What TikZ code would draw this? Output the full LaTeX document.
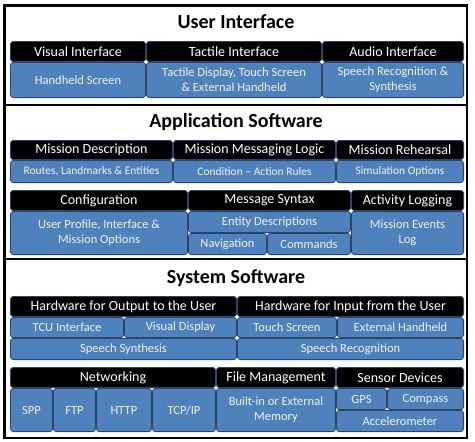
\documentclass[tikz,border=0pt]{standalone}
\usepackage{fontspec}
\setmainfont{Carlito}
\usepackage{xcolor}
\definecolor{cellblue}{RGB}{79,129,189}
\definecolor{cellrim}{RGB}{40,70,108}
\definecolor{celltext}{RGB}{240,243,250}
\usetikzlibrary{positioning}

\begin{document}
\begin{tikzpicture}[x=1pt, y=-1pt,
  span/.style n args={4}{at={({(#1+#3)/2},{(#2+#4)/2})},
    minimum width={(#3-#1-0.8)*1pt}, minimum height={(#4-#2-0.8)*1pt}},
  cell/.style={draw=cellrim, line width=0.8pt, rounded corners=3pt, inner sep=0pt, align=center},
  hdr/.style={cell, fill=black, text=white, font=\fontsize{14}{16}\selectfont},
  body/.style={cell, fill=cellblue, text=celltext, font=\fontsize{12.5}{15}\selectfont},
  small/.style={body, font=\fontsize{11.5}{14}\selectfont},
  title/.style={font=\bfseries\fontsize{20}{22}\selectfont}]
\useasboundingbox (0,0) rectangle (475,442);
\draw[line width=2.5pt] (4.5,5.5) rectangle (467,438);
\draw[line width=2.5pt] (4.5,105) -- (467,105) (4.5,259) -- (467,259);

\node[title] (ui) at (236,22) {User Interface};
\node[hdr, span={10}{41}{146}{62}] (visH) {Visual Interface};
\node[hdr, span={146}{41}{322}{62}] (tacH) {Tactile Interface};
\node[hdr, span={322}{41}{464}{62}] (audH) {Audio Interface};
\node[body, span={10}{62}{146}{98}] (visB) {Handheld Screen};
\node[body, span={146}{62}{322}{98}] (tacB) {Tactile Display, Touch Screen\\\& External Handheld};
\node[body, span={322}{62}{464}{98}] (audB) {Speech Recognition \&\\Synthesis};

\node[title] (app) at (236,122) {Application Software};
\node[hdr, span={10}{140}{173}{160}] (descH) {Mission Description};
\node[hdr, span={173}{140}{336}{160}] (msgH) {Mission Messaging Logic};
\node[hdr, span={336}{140}{464}{160}] (rehH) {Mission Rehearsal};
\node[small, span={10}{160}{173}{183}] (descB) {Routes, Landmarks \& Entities};
\node[small, span={173}{160}{336}{183}] (msgB) {Condition -- Action Rules};
\node[small, span={336}{160}{464}{183}] (rehB) {Simulation Options};
\node[hdr, span={10}{190}{188}{211}] (confH) {Configuration};
\node[hdr, span={188}{190}{351}{211}] (synH) {Message Syntax};
\node[hdr, span={351}{190}{464}{211}] (logH) {Activity Logging};
\node[body, span={10}{211}{188}{255}] (confB) {User Profile, Interface \&\\Mission Options};
\node[body, span={188}{211}{351}{233}] (entB) {Entity Descriptions};
\node[body, span={188}{233}{267}{255}] (navB) {Navigation};
\node[body, span={267}{233}{351}{255}] (cmdB) {Commands};
\node[body, span={351}{211}{464}{255}] (logB) {Mission Events\\Log};

\node[title] (sys) at (236,278) {System Software};
\node[hdr, span={10}{296}{237}{317}] (outH) {Hardware for Output to the User};
\node[hdr, span={237}{296}{464}{317}] (inH) {Hardware for Input from the User};
\node[body, span={10}{317}{124}{338}] (tcuB) {TCU Interface};
\node[body, span={124}{317}{237}{338}] (vdB) {Visual Display};
\node[body, span={10}{338}{237}{360}] (ssB) {Speech Synthesis};
\node[body, span={237}{317}{337}{338}] (tsB) {Touch Screen};
\node[body, span={337}{317}{464}{338}] (ehB) {External Handheld};
\node[body, span={237}{338}{464}{360}] (srB) {Speech Recognition};
\node[hdr, span={10}{367}{216}{388}] (netH) {Networking};
\node[hdr, span={216}{367}{336}{388}] (fileH) {File Management};
\node[hdr, span={336}{367}{464}{388}] (sensH) {Sensor Devices};
\node[body, span={10}{388}{53}{432}] (sppB) {SPP};
\node[body, span={53}{388}{96}{432}] (ftpB) {FTP};
\node[body, span={96}{388}{152}{432}] (httpB) {HTTP};
\node[body, span={152}{388}{216}{432}] (tcpB) {TCP/IP};
\node[body, span={216}{388}{336}{432}] (fileB) {Built-in or External\\Memory};
\node[body, span={336}{388}{387}{410}] (gpsB) {GPS};
\node[body, span={387}{388}{464}{410}] (cmpB) {Compass};
\node[body, span={336}{410}{464}{432}] (accB) {Accelerometer};
\end{tikzpicture}
\end{document}
